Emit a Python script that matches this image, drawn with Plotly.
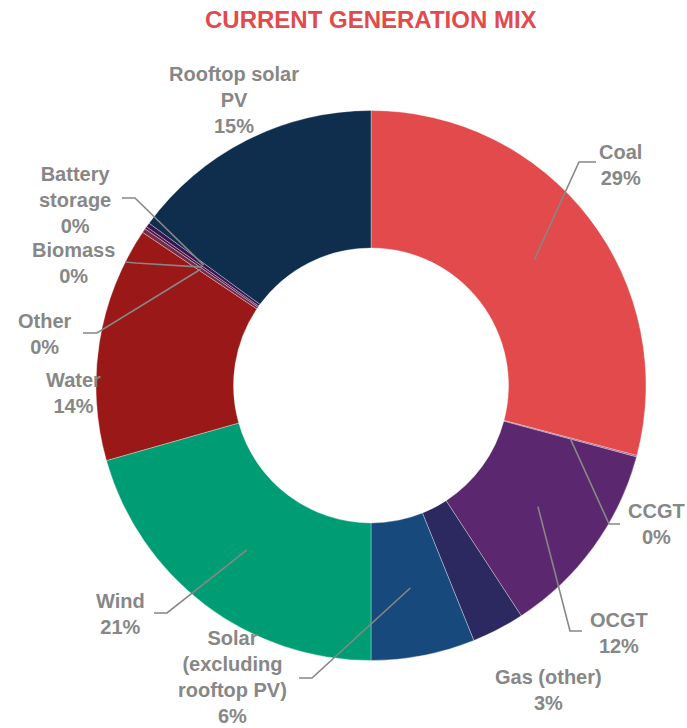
import math
import plotly.graph_objects as go

# ---- data ----
categories = ["Coal", "CCGT", "OCGT", "Gas (other)", "Solar (excluding rooftop PV)",
              "Wind", "Water", "Other", "Biomass", "Battery storage", "Rooftop solar PV"]
shares = [29.1, 0.08, 11.62, 3.1, 6.1, 20.6, 13.8, 0.25, 0.15, 0.25, 14.95]

# ---- style ----
colors = ["#E34A4B", "#A0467A", "#5B276E", "#2C2961", "#17497D",
          "#009D74", "#9B1818", "#782A4A", "#4D1A48", "#3A1552", "#0F2D4C"]
display = {
    "Solar (excluding rooftop PV)": "Solar<br>(excluding<br>rooftop PV)",
    "Battery storage": "Battery<br>storage",
    "Rooftop solar PV": "Rooftop solar<br>PV",
}
# label centre (px) and optional leader elbow/end (px)
label_pos = {
    "Coal": (620, 165), "CCGT": (656, 524), "OCGT": (619, 633),
    "Gas (other)": (548, 690), "Solar (excluding rooftop PV)": (232, 677),
    "Wind": (120, 614), "Water": (73, 393), "Other": (45, 334),
    "Biomass": (73, 263), "Battery storage": (75, 200), "Rooftop solar PV": (234, 100),
}
leaders = {
    "Coal": [(579, 162), (596, 162)],
    "CCGT": [(609, 524), (620, 524)],
    "OCGT": [(570, 631), (582, 631)],
    "Solar (excluding rooftop PV)": [(312, 678), (299, 678)],
    "Wind": [(167, 613), (154, 613)],
    "Other": [(97, 333), (83, 333)],
    "Biomass": [(136, 263), (125, 262)],
    "Battery storage": [(135, 198), (122, 198)],
}

W, H = 687, 728
CX, CY, R = 371, 385.5, 275
HOLE = 0.5


def px(x):
    return x / W


def py(y):
    return 1 - y / H


fig = go.Figure(go.Pie(
    labels=categories, values=shares, sort=False, direction="clockwise", rotation=0,
    hole=HOLE, textinfo="none", hoverinfo="label+percent",
    marker=dict(colors=colors, line=dict(color="rgba(255,255,255,0.55)", width=0.6)),
    domain=dict(x=[px(CX - R), px(CX + R)], y=[py(CY + R), py(CY - R)]),
    showlegend=False,
))

total = sum(shares)
cum = 0.0
shapes = []
annotations = []
grey = "#878787"
for name, v in zip(categories, shares):
    theta = 2 * math.pi * (cum + v / 2) / total
    cum += v
    pct = round(100 * v / total)
    lx, ly = label_pos[name]
    annotations.append(dict(
        x=px(lx), y=py(ly), xref="paper", yref="paper", showarrow=False,
        xanchor="center", yanchor="middle", align="center",
        text=f"{display.get(name, name)}<br>{pct}%",
        font=dict(family="Liberation Sans, Arial, sans-serif", size=20, color=grey, weight="bold"),
    ))
    if name in leaders:
        r = R * (1 + HOLE) / 2
        tx = CX + r * math.sin(theta)
        ty = CY - r * math.cos(theta)
        pts = [(tx, ty)] + leaders[name]
        path = "M " + " L ".join(f"{px(a):.5f},{py(b):.5f}" for a, b in pts)
        shapes.append(dict(type="path", path=path, xref="paper", yref="paper",
                           line=dict(color=grey, width=1.6)))

annotations.append(dict(
    x=px(371), y=py(19), xref="paper", yref="paper", showarrow=False,
    xanchor="center", yanchor="middle", text="CURRENT GENERATION MIX",
    font=dict(family="Liberation Sans, Arial, sans-serif",
              size=24, color="#E34A4B", weight="bold"),
))

fig.update_layout(
    width=W, height=H, margin=dict(l=0, r=0, t=0, b=0),
    paper_bgcolor="white", plot_bgcolor="white",
    shapes=shapes, annotations=annotations,
)

fig.write_html("out.html", config={"displayModeBar": False},
               post_script="document.body.style.margin='0';document.body.style.overflow='hidden';")
